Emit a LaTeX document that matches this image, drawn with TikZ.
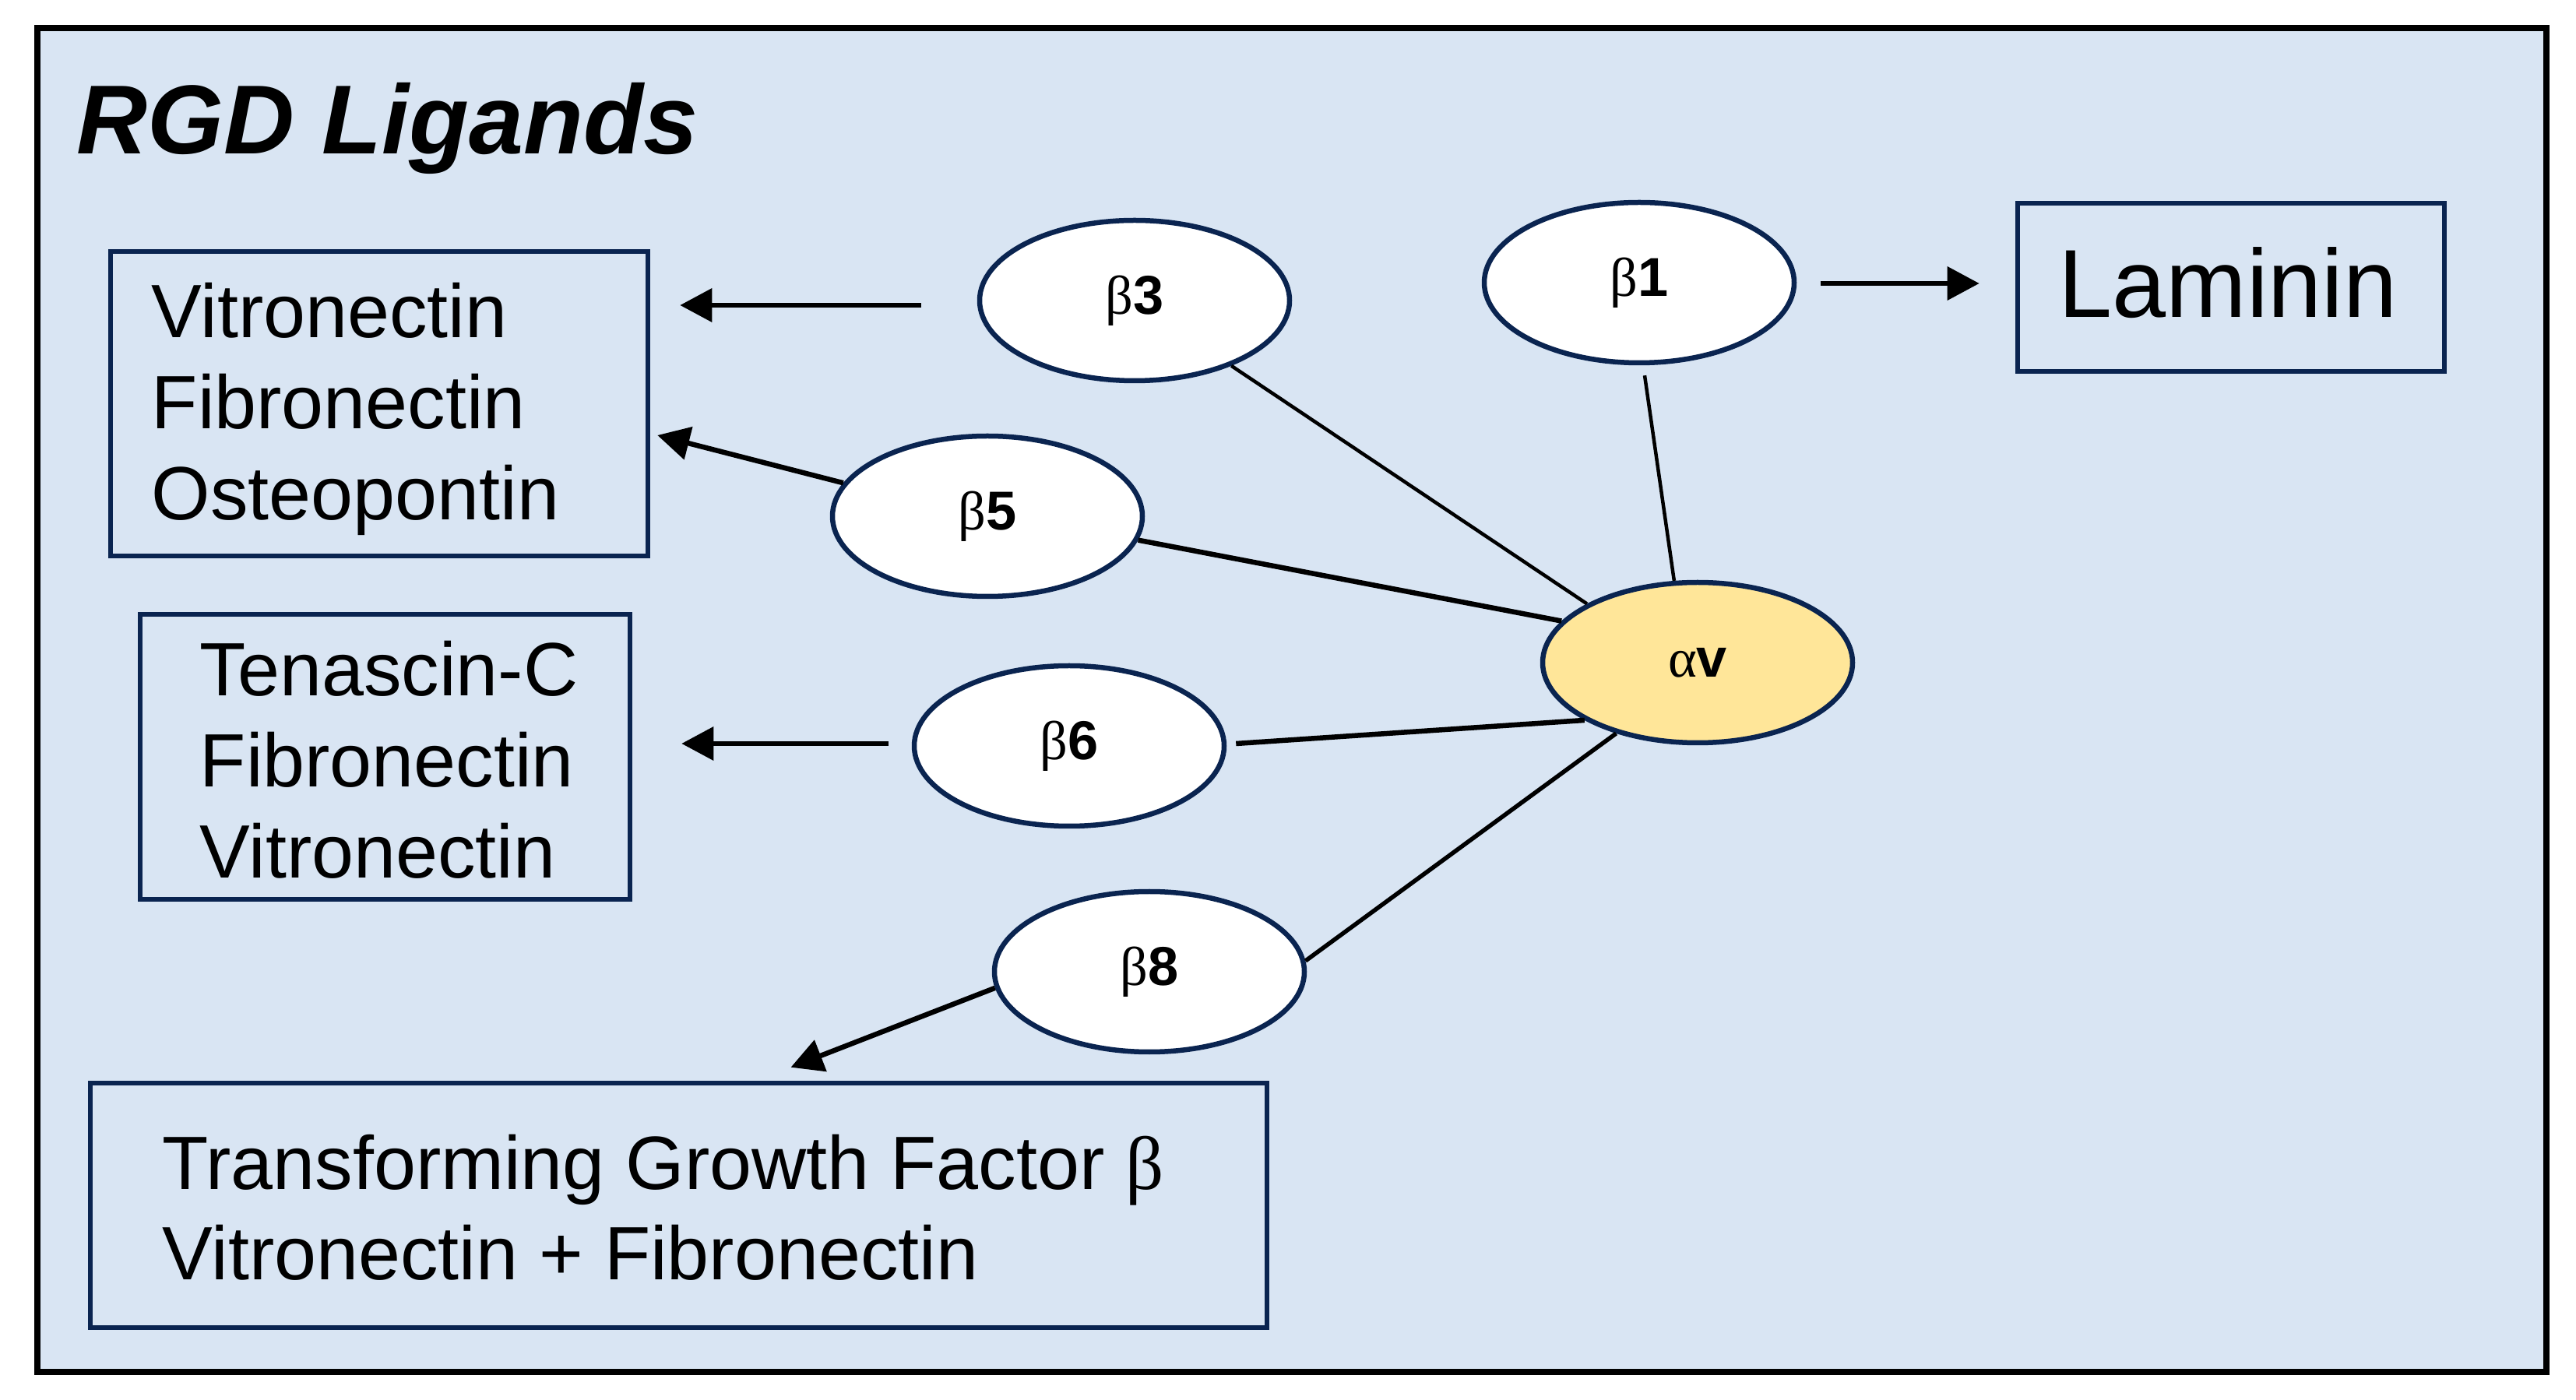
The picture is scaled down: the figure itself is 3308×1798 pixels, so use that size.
\documentclass[tikz,border=0pt]{standalone}
\usepackage{fontspec}
\setmainfont{Liberation Sans}
\newfontfamily\grk{Liberation Serif}
\usetikzlibrary{arrows.meta,shapes.geometric,calc}
\newlength{\upx}\setlength{\upx}{0.01cm}
\definecolor{bgblue}{HTML}{D9E5F3}
\definecolor{navy}{HTML}{0A2450}
\definecolor{gold}{HTML}{FFE699}
\begin{document}
\begin{tikzpicture}[x=0.01cm, y=-0.01cm,
  integ/.style={ellipse, draw=navy, line width=6.5\upx, fill=white, minimum width=398\upx, minimum height=206\upx, inner sep=0pt, font=\fontsize{20}{23}\selectfont},
  ligbox/.style={rectangle, draw=navy, line width=6.5\upx, inner sep=0pt},
  boxtxt/.style={inner sep=0pt, align=left, font=\fontsize{27.6}{33.4}\selectfont},
  link/.style={line width=5.5\upx, black},
  arr/.style={line width=6.5\upx, black, -{Triangle[length=11.7pt, width=12pt]}}]

\useasboundingbox (0,0) rectangle (3308,1798);
\node[draw=black, fill=bgblue, line width=8\upx, minimum width=3222\upx, minimum height=1726\upx, inner sep=0pt] (frame) at (1659,899) {};

\node[anchor=base west, inner sep=0pt, font=\fontsize{35.8}{40}\selectfont\bfseries\itshape] (title) at (98,198) {RGD Ligands};

% ligand boxes
\node[ligbox, minimum width=690\upx, minimum height=391\upx] (box1) at (487,518.5) {};
\node[boxtxt, anchor=north west] (t1) at (194,362) {Vitronectin\\Fibronectin\\Osteopontin};

\node[ligbox, minimum width=629\upx, minimum height=366\upx] (box2) at (494.5,972) {};
\node[boxtxt, anchor=north west] (t2) at (256,822) {Tenascin-C\\Fibronectin\\Vitronectin};

\node[ligbox, minimum width=1511\upx, minimum height=314\upx] (box3) at (871.5,1548) {};
\node[boxtxt, anchor=north west, font=\fontsize{27.6}{33}\selectfont] (t3) at (208,1456) {Transforming Growth Factor {\grk β}\\Vitronectin + Fibronectin};

\node[ligbox, minimum width=548\upx, minimum height=216\upx] (lam) at (2865,369) {};
\node[anchor=base, inner sep=0pt, font=\fontsize{35.3}{40}\selectfont] (tlam) at (2861,408) {Laminin};

% integrin subunits
\node[integ] (b3) at (1457,386) {{\grk β}\textbf{3}};
\node[integ] (b1) at (2105,363) {{\grk β}\textbf{1}};
\node[integ] (b5) at (1268,663) {{\grk β}\textbf{5}};
\node[integ] (b6) at (1373,958) {{\grk β}\textbf{6}};
\node[integ] (b8) at (1476,1248) {{\grk β}\textbf{8}};
\node[integ, fill=gold] (av) at (2180,851) {{\grk α}\textbf{v}};

% links to alpha v
\draw[link, line width=4.5\upx] (b3.326) -- (av.152);
\draw[link, line width=4.5\upx] ($(b1.south)+(7,13)$) -- (av.106);
\draw[link, line width=6.5\upx] (b5.351) -- (av.163);
\draw[link, line width=6.5\upx] ($(b6.east)+(12,-3)$) -- (av.207);
\draw[link] (b8.4) -- (av.221);

% arrows to ligands
\draw[arr] ($(b3.west)+(-72,6)$) -- ($(b3.west -| box1.east)+(38,6)$);
\draw[arr] (b5.167) -- ($(box1.east)+(9,40.5)$);
\draw[arr] ($(b6.west)+(-30,-3)$) -- ($(b6.west -| box2.east)+(63,-3)$);
\draw[arr] (b8.186) -- ($(box3.north)+(144,-17)$);
\draw[arr] ($(b1.east)+(31,1)$) -- ($(b1.east -| lam.west)+(-46,1)$);
\end{tikzpicture}
\end{document}
